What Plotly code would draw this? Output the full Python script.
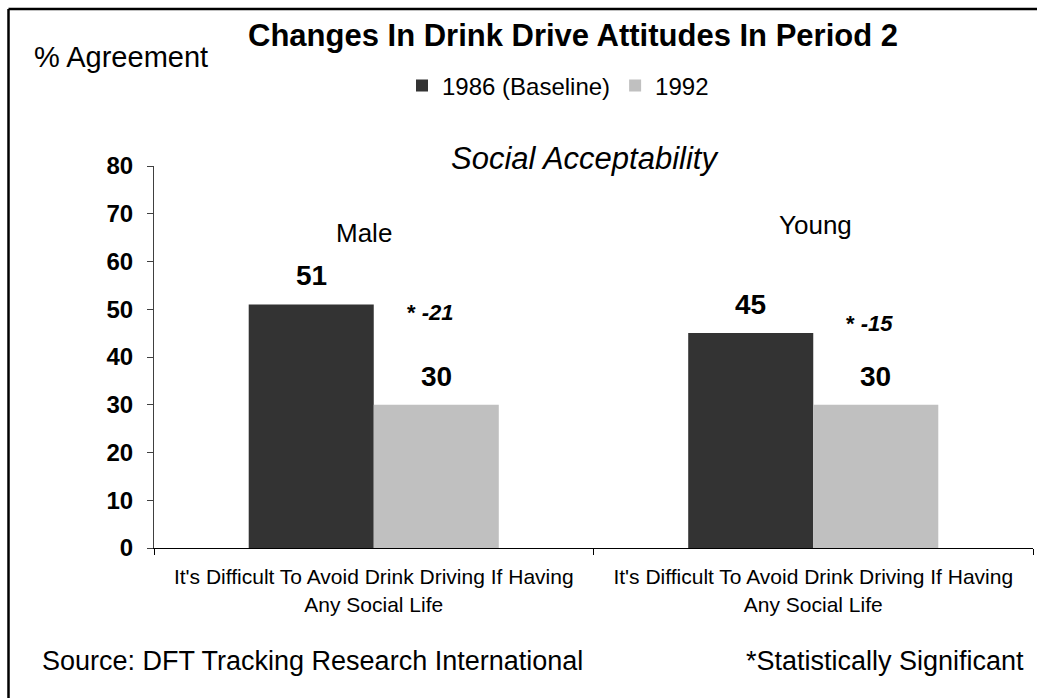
import plotly.graph_objects as go

# Survey data: % agreeing with the statement, by group
groups = ["Male", "Young"]
statement = "It's Difficult To Avoid Drink Driving If Having<br>Any Social Life"
baseline_1986 = [51, 45]
survey_1992 = [30, 30]
changes = [-21, -15]

W, H = 1037, 698
FONT = "Liberation Sans, Arial, sans-serif"
DARK = "#333333"
LIGHT = "#C0C0C0"

fig = go.Figure()
fig.add_trace(go.Bar(x=groups, y=baseline_1986, name="1986 (Baseline)",
                     marker=dict(color=DARK, line=dict(width=0))))
fig.add_trace(go.Bar(x=groups, y=survey_1992, name="1992",
                     marker=dict(color=LIGHT, line=dict(width=0))))

x0, x1 = 154 / W, 1033 / W
y0, y1 = 1 - 548 / H, 1 - 166 / H


def txt(size):
    return dict(size=size, family=FONT, color="black")


annotations = []
half = 62.5  # half a bar in pixels, offset of each bar from the group centre
delta_y = {"Male": 49.3, "Young": 47.0}
for g, b, s, d in zip(groups, baseline_1986, survey_1992, changes):
    annotations.append(dict(x=g, y=b, text=f"<b>{b}</b>", xshift=-half, yshift=29,
                            showarrow=False, yanchor="middle", font=txt(28)))
    annotations.append(dict(x=g, y=s, text=f"<b>{s}</b>", xshift=half, yshift=28,
                            showarrow=False, yanchor="middle", font=txt(28)))
    annotations.append(dict(x=g, y=delta_y[g], text=f"<b>* <i>{d}</i></b>", xshift=half - 6,
                            showarrow=False, yanchor="middle", font=txt(22)))

annotations += [
    dict(x="Male", y=66, text="Male", xshift=-10, showarrow=False, yanchor="middle", font=txt(26)),
    dict(x="Young", y=67.6, text="Young", xshift=2, showarrow=False, yanchor="middle", font=txt(26)),
    dict(xref="paper", yref="paper", x=573 / W, y=1 - 35 / H,
         text="<b>Changes In Drink Drive Attitudes In Period 2</b>",
         showarrow=False, xanchor="center", yanchor="middle", font=txt(31)),
    dict(xref="paper", yref="paper", x=32 / W, y=1 - 57 / H, text="% Agreement",
         showarrow=False, xanchor="left", yanchor="middle", font=txt(29)),
    dict(xref="paper", yref="paper", x=585 / W, y=1 - 158 / H, text="<i>Social Acceptability</i>",
         showarrow=False, xanchor="center", yanchor="middle", font=txt(31)),
    dict(xref="paper", yref="paper", x=40 / W, y=1 - 661 / H,
         text="Source: DFT Tracking Research International",
         showarrow=False, xanchor="left", yanchor="middle", font=txt(27)),
    dict(xref="paper", yref="paper", x=1026 / W, y=1 - 661 / H, text="*Statistically Significant",
         showarrow=False, xanchor="right", yanchor="middle", font=txt(27)),
]

# frame along the top and left edges
shapes = [
    dict(type="line", xref="paper", yref="paper", x0=8.5 / W, x1=1, y0=1 - 9 / H, y1=1 - 9 / H,
         line=dict(color="black", width=2.5)),
    dict(type="line", xref="paper", yref="paper", x0=8.5 / W, x1=8.5 / W, y0=0, y1=1 - 9 / H,
         line=dict(color="black", width=2.5)),
]

fig.update_layout(
    template="none",
    width=W, height=H,
    margin=dict(l=0, r=0, t=0, b=0, autoexpand=False),
    paper_bgcolor="white", plot_bgcolor="white",
    barmode="group", bargap=0.431, bargroupgap=0,
    hovermode=False,
    font=dict(family=FONT, color="black"),
    legend=dict(orientation="h", x=558 / W, xanchor="center", y=1 - 86 / H, yanchor="middle",
                font=txt(24), bgcolor="rgba(0,0,0,0)", itemwidth=30, traceorder="normal"),
    xaxis=dict(domain=[x0, x1], type="category", tickvals=groups, ticktext=[statement, statement],
               tickson="boundaries", ticks="outside", ticklen=6, tickcolor="black",
               showline=True, linecolor="black", linewidth=1, showgrid=False, zeroline=False,
               automargin=False, ticklabelstandoff=10, tickfont=txt(21)),
    yaxis=dict(domain=[y0, y1], range=[0, 80], dtick=10, ticks="outside", ticklen=6,
               tickcolor="#404040", showline=True, linecolor="#404040", linewidth=1,
               showgrid=False, zeroline=False, ticklabelstandoff=9, automargin=False,
               tickfont=txt(24), tickprefix="<b>", ticksuffix="</b>"),
    annotations=annotations,
    shapes=shapes,
)

fig.write_html("out.html")
